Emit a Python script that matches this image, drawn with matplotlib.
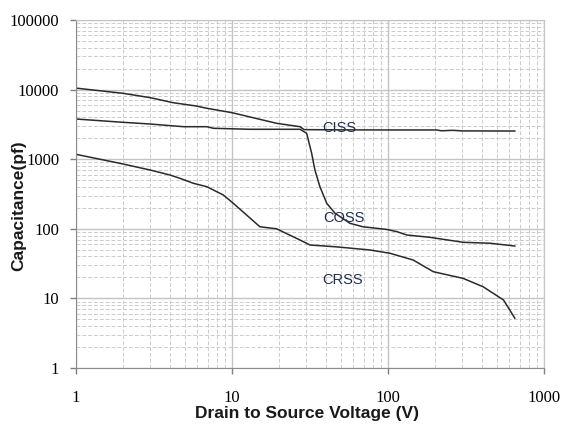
import matplotlib
matplotlib.use('Agg')
import matplotlib.pyplot as plt
from matplotlib.ticker import LogLocator, FixedLocator, NullFormatter

# values (V in volts, C in pF)
ciss_v = [1, 2, 3, 4.2, 5.9, 6.9, 10, 19.3, 27.3, 29, 50, 100, 205, 220, 260, 300, 650]
ciss_c = [10500, 8850, 7650, 6480, 5810, 5390, 4660, 3280, 2930, 2660, 2640, 2630, 2630,
          2560, 2600, 2550, 2540]

coss_v = [1, 2, 3, 4.9, 6.9, 7.6, 13, 27.3, 30.1, 32.4, 34, 36.6, 40.5, 45.8, 57, 69,
          98, 114, 132, 185, 303, 452, 650]
coss_c = [3780, 3390, 3200, 2930, 2930, 2780, 2690, 2690, 2355, 1216, 700, 403, 232, 167,
          120, 107, 98, 91, 81.5, 75.5, 64, 62, 56.6]

crss_v = [1, 1.91, 2.98, 4.0, 4.64, 5.65, 6.88, 8.8, 10.2, 15.1, 19.3, 27.3, 31.6, 46.9,
          76.7, 103, 145, 195, 303, 407, 550, 650]
crss_c = [1175, 873, 700, 593, 531, 451, 403, 306, 232, 107, 100, 69, 58.5, 55, 49.6,
          44.5, 35.6, 24.2, 19.4, 14.7, 9.5, 5.2]

x_ticks = [1, 10, 100, 1000]
y_ticks = [1, 10, 100, 1000, 10000, 100000]

fig = plt.figure(figsize=(5.62, 4.25), dpi=100)
ax = fig.add_axes([76 / 562, 1 - 368 / 425, 468 / 562, 348 / 425])
ax.set_xscale('log')
ax.set_yscale('log')
ax.set_xlim(1, 1000)
ax.set_ylim(1, 100000)

# grid: solid majors, dashed minors
ax.grid(which='major', color='#c4c4c4', linestyle='-', linewidth=1.0)
ax.grid(which='minor', color='#cccccc', linestyle=(0, (4, 2)), linewidth=0.7)
ax.set_axisbelow(True)

for v, c in [(ciss_v, ciss_c), (coss_v, coss_c), (crss_v, crss_c)]:
    ax.plot(v, c, color='#2a2a2a', linewidth=1.1)

lbl_style = dict(fontsize=10.5, color='#1f2f4f', va='center', family='Liberation Sans')
ax.text(37.8, 2850, 'CISS', **lbl_style)
ax.text(38.4, 145, 'COSS', **lbl_style)
ax.text(37.8, 18.4, 'CRSS', **lbl_style)

ax.xaxis.set_major_locator(FixedLocator(x_ticks))
ax.yaxis.set_major_locator(FixedLocator(y_ticks))
ax.xaxis.set_minor_locator(LogLocator(base=10, subs=range(2, 10)))
ax.yaxis.set_minor_locator(LogLocator(base=10, subs=range(2, 10)))
ax.xaxis.set_minor_formatter(NullFormatter())
ax.yaxis.set_minor_formatter(NullFormatter())
ax.set_xticklabels([str(t) for t in x_ticks])
ax.set_yticklabels([str(t) for t in y_ticks])

ax.tick_params(which='major', direction='out', length=4, width=1, color='#808080',
               labelsize=12, pad=12)
ax.tick_params(axis='y', which='major', pad=8)
ax.tick_params(which='minor', length=0)
for lbl in ax.get_xticklabels() + ax.get_yticklabels():
    lbl.set_family('Liberation Serif')

for side in ['left', 'bottom']:
    ax.spines[side].set_color('#8c8c8c')
for side in ['top', 'right']:
    ax.spines[side].set_color('#c4c4c4')

ax.set_xlabel('Drain to Source Voltage (V)', fontsize=12.5, fontweight='bold',
              family='Liberation Sans', color='#1a1a1a')
ax.set_ylabel('Capacitance(pf)', fontsize=12.5, fontweight='bold',
              family='Liberation Sans', color='#1a1a1a')
ax.xaxis.set_label_coords(0.494, -0.108)
ax.yaxis.set_label_coords(-0.106, 0.466)

fig.savefig('out.png', dpi=100)
